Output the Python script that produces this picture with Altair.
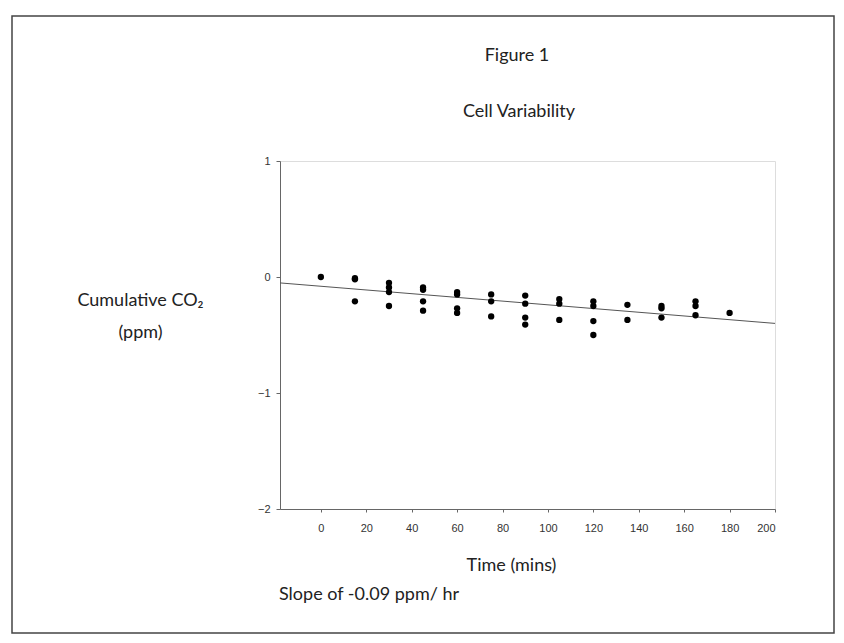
import altair as alt
import pandas as pd

# Data
time_mins = [0,
             15, 15, 15,
             30, 30, 30, 30,
             45, 45, 45, 45,
             60, 60, 60, 60,
             75, 75, 75,
             90, 90, 90, 90,
             105, 105, 105,
             120, 120, 120, 120,
             135, 135,
             150, 150, 150,
             165, 165, 165,
             180]
co2_ppm = [0.0,
           -0.01, -0.02, -0.21,
           -0.05, -0.09, -0.13, -0.25,
           -0.09, -0.11, -0.21, -0.29,
           -0.13, -0.15, -0.27, -0.31,
           -0.15, -0.21, -0.34,
           -0.16, -0.23, -0.35, -0.41,
           -0.19, -0.23, -0.37,
           -0.21, -0.25, -0.38, -0.50,
           -0.24, -0.37,
           -0.25, -0.27, -0.35,
           -0.21, -0.25, -0.33,
           -0.31]

trend_x = [-18, 200]
trend_y = [-0.051, -0.40]

x_ticks = [0, 20, 40, 60, 80, 100, 120, 140, 160, 180, 200]
y_ticks = [1, 0, -1, -2]

FONT = "Lato"
W, H = 495, 348
PL, PT = 272, 153

pts = pd.DataFrame({"t": time_mins, "v": co2_ppm})
trend = pd.DataFrame({"t": trend_x, "v": trend_y})

xs = alt.Scale(domain=[-18, 200], nice=False, zero=False)
ys = alt.Scale(domain=[-2, 1], nice=False, zero=False)

xaxis = alt.Axis(values=x_ticks, grid=False, title="Time (mins)", format="d",
                 titleFont=FONT, titleFontSize=18, titleFontWeight="normal",
                 titleColor="#222", titleX=231, titleY=61, titleAlign="center",
                 titleBaseline="alphabetic", labelFont="Liberation Sans",
                 labelFontSize=11, labelColor="#333", labelPadding=10,
                 domainColor="#666", tickColor="#666", tickSize=3)
yaxis = alt.Axis(values=y_ticks, grid=False, title=["Cumulative CO₂", "(ppm)"],
                 format="d",
                 titleFont=FONT, titleFontSize=18, titleFontWeight="normal",
                 titleColor="#222", titleAngle=0, titleAlign="center",
                 titleBaseline="alphabetic", titleX=-140, titleY=144,
                 titleLineHeight=32, labelFont="Liberation Sans",
                 labelFontSize=11, labelColor="#333", labelPadding=6,
                 domainColor="#666", tickColor="#666", tickSize=4)

points = alt.Chart(pts).mark_circle(color="black", opacity=1, size=40).encode(
    x=alt.X("t:Q", scale=xs, axis=xaxis),
    y=alt.Y("v:Q", scale=ys, axis=yaxis),
)

line = alt.Chart(trend).mark_line(color="#555", strokeWidth=1).encode(
    x=alt.X("t:Q", scale=xs),
    y=alt.Y("v:Q", scale=ys),
)

ann = pd.DataFrame({"label": ["x"]})

def text(label, x, y, align="center"):
    return alt.Chart(ann).mark_text(
        text=label, font=FONT, fontSize=18, color="#222", align=align,
        baseline="alphabetic"
    ).encode(x=alt.value(x), y=alt.value(y))

fig_title = text("Figure 1", 517 - 280, 61 - 161)
sub_title = text("Cell Variability", 519 - 280, 117 - 161)
slope = text("Slope of -0.09 ppm/ hr", 279 - 280, 600 - 161, align="left")

frame = alt.Chart(ann).mark_rect(filled=False, stroke="#444", strokeWidth=1.5).encode(
    x=alt.value(12 - 280), x2=alt.value(834 - 280),
    y=alt.value(16 - 161), y2=alt.value(633 - 161),
)

chart = alt.layer(frame, line, points, fig_title, sub_title, slope).properties(
    width=W, height=H,
    autosize=alt.AutoSizeParams(type="none"),
    padding={"left": PL, "top": PT, "right": 60, "bottom": 126},
).configure_view(stroke="#777", strokeWidth=1).configure(background="white")

chart.save("out.html", embed_options={"renderer": "svg", "actions": False})
